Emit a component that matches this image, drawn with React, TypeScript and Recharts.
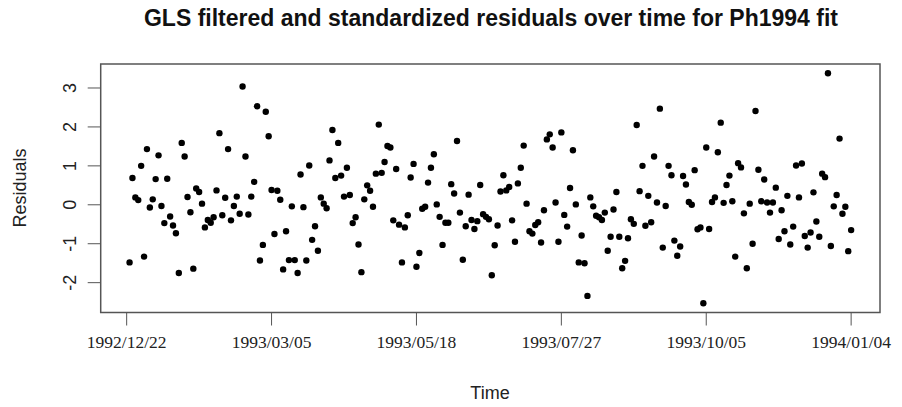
import { ScatterChart, Scatter, XAxis, YAxis, ReferenceArea } from "recharts";

const residuals = [
  -1.48, 0.69, 0.19, 0.12, 1.0, -1.33, 1.43, -0.07, 0.14, 0.66,
  1.27, -0.03, -0.47, 0.67, -0.3, -0.53, -0.73, -1.75, 1.59, 1.24,
  0.2, -0.19, -1.64, 0.42, 0.33, 0.03, -0.58, -0.39, -0.46, -0.32,
  0.37, 1.84, -0.27, 0.18, 1.43, -0.4, -0.03, 0.21, -0.23, 3.04,
  1.24, -0.25, 0.21, 0.59, 2.53, -1.43, -1.03, 2.39, 1.76, 0.38,
  -0.75, 0.36, 0.13, -1.66,
  -0.68, -1.42, -0.04, -1.42, -1.75, 0.78, -0.06, -1.43, 1.01, -0.9,
  -0.55, -1.18, 0.19, 0.03, -0.09, 1.14, 1.92, 0.69, 1.59, 0.75,
  0.21, 0.95, 0.25, -0.47, -0.32, -1.02, -1.73, 0.14, 0.5, 0.36,
  -0.05, 0.8, 2.06, 0.82, 1.1, 1.51, 1.47, -0.4, 0.92, -0.51,
  -1.48, -0.58, -0.27, 0.7, 1.05, -1.59, -1.24, -0.1, -0.05, 0.57,
  0.95, 1.3, 0.01, -0.31, -1.03, -0.46, -0.46, 0.53, 0.29, 1.64,
  -0.2, -1.41, -0.55, 0.26,
  -0.39, -0.62, -0.42, 0.51, -0.24, -0.31, -0.37, -1.81, -1.04, -0.53,
  0.34, 0.76, 0.37, 0.46, -0.4, -0.95, 0.55, 0.95, 1.52, 0.03,
  -0.68, -0.74, -0.52, -0.45, -0.97, -0.14, 1.68, 1.81, 1.47, 0.06,
  -0.95, 1.86, -0.26, -0.56, 0.43, 1.4, 0.01, -1.48, -0.79, -1.5,
  -2.34, 0.19, -0.04, -0.28, -0.32, -0.39, -0.2, -1.18, -0.82, -0.12,
  0.33, -0.82, -1.63, -1.44, -0.86, -0.37, -0.49, 2.05, 0.35, 1.0,
  -0.54, 0.23, -0.45, 1.24, 0.06, 2.47,
  -1.1, -0.03, 1.0, 0.76, -0.92, -1.31, -1.07, 0.74, 0.52, 0.07,
  0.0, 0.89, -0.63, -0.58, -2.53, 1.47, -0.62, 0.07, 0.19, 1.35,
  2.11, 0.05, 0.51, 0.75, 0.09, -1.33, 1.07, 0.96, -0.22, -1.63,
  0.03, -1.0, 2.41, 0.9, 0.09, 0.65, 0.06, -0.2, 0.06, 0.44,
  -0.88, -0.14, -0.68, 0.23, -1.02, -0.56, 1.01, 0.19, 1.06, -0.8,
  -1.1, -0.71, 0.32, -0.43, -0.82, 0.8, 0.71, 3.38, -1.06, -0.04,
  0.25, 1.7, -0.23, -0.05, -1.19, -0.65,
];

const timeTicks = [0, 50, 100, 150, 200, 250];
const timeLabels = ["1992/12/22", "1993/03/05", "1993/05/18", "1993/07/27", "1993/10/05", "1994/01/04"];
const residTicks = [-2, -1, 0, 1, 2, 3];

const points = residuals.map((r, i) => ({ t: i + 1, r }));

// R pads each axis by 4% of the data range
const pad = (vals: number[]) => {
  const lo = Math.min(...vals);
  const hi = Math.max(...vals);
  const d = (hi - lo) * 0.04;
  return [lo - d, hi + d];
};
const xDomain = pad(points.map((p) => p.t));
const yDomain = pad(residuals);

const sans = "'Liberation Sans', Arial, sans-serif";

const TimeTick = ({ x, y, payload }: any) => (
  <text x={x} y={y + 20} textAnchor="middle" fontFamily="'Liberation Serif', serif" fontSize={17.5} fill="#222">
    {timeLabels[timeTicks.indexOf(payload.value)]}
  </text>
);

const ResidTick = ({ x, y, payload }: any) => (
  <text x={x - 10} y={y} transform={`rotate(-90 ${x - 10} ${y})`} textAnchor="middle" fontFamily={sans} fontSize={18} fill="#222">
    {payload.value}
  </text>
);

const Dot = ({ cx, cy }: any) => <circle cx={cx} cy={cy} r={3.2} fill="#000" />;

export default function App() {
  return (
    <div style={{ position: "absolute", left: 0, top: 0, width: 902, height: 407, background: "#fff" }}>
      <div style={{ position: "absolute", left: 101, width: 780, top: 6.5, lineHeight: 1, textAlign: "center", fontFamily: sans, fontWeight: "bold", fontSize: 23, color: "#111" }}>
        GLS filtered and standardized residuals over time for Ph1994 fit
      </div>
      <div style={{ position: "absolute", left: 20, top: 188, transform: "translate(-50%, -50%) rotate(-90deg)", fontFamily: sans, fontSize: 18, color: "#222", whiteSpace: "nowrap" }}>
        Residuals
      </div>
      <div style={{ position: "absolute", left: 490, top: 393, transform: "translate(-50%, -50%)", fontFamily: sans, fontSize: 18, color: "#222" }}>
        Time
      </div>
      <ScatterChart width={902} height={407} margin={{ top: 64, right: 22, bottom: 0, left: 0 }}>
        <XAxis
          type="number"
          dataKey="t"
          domain={xDomain}
          ticks={timeTicks}
          allowDataOverflow
          height={94.5}
          axisLine={false}
          tickSize={13}
          tickLine={{ stroke: "#555" }}
          tick={<TimeTick />}
        />
        <YAxis
          type="number"
          dataKey="r"
          domain={yDomain}
          ticks={residTicks}
          allowDataOverflow
          width={100.7}
          axisLine={false}
          tickSize={13}
          tickLine={{ stroke: "#555" }}
          tick={<ResidTick />}
        />
        <ReferenceArea
          x1={xDomain[0]}
          x2={xDomain[1]}
          y1={yDomain[0]}
          y2={yDomain[1]}
          fill="none"
          stroke="#555"
          strokeWidth={1.5}
          ifOverflow="visible"
        />
        <Scatter data={points} shape={<Dot />} isAnimationActive={false} />
      </ScatterChart>
    </div>
  );
}
